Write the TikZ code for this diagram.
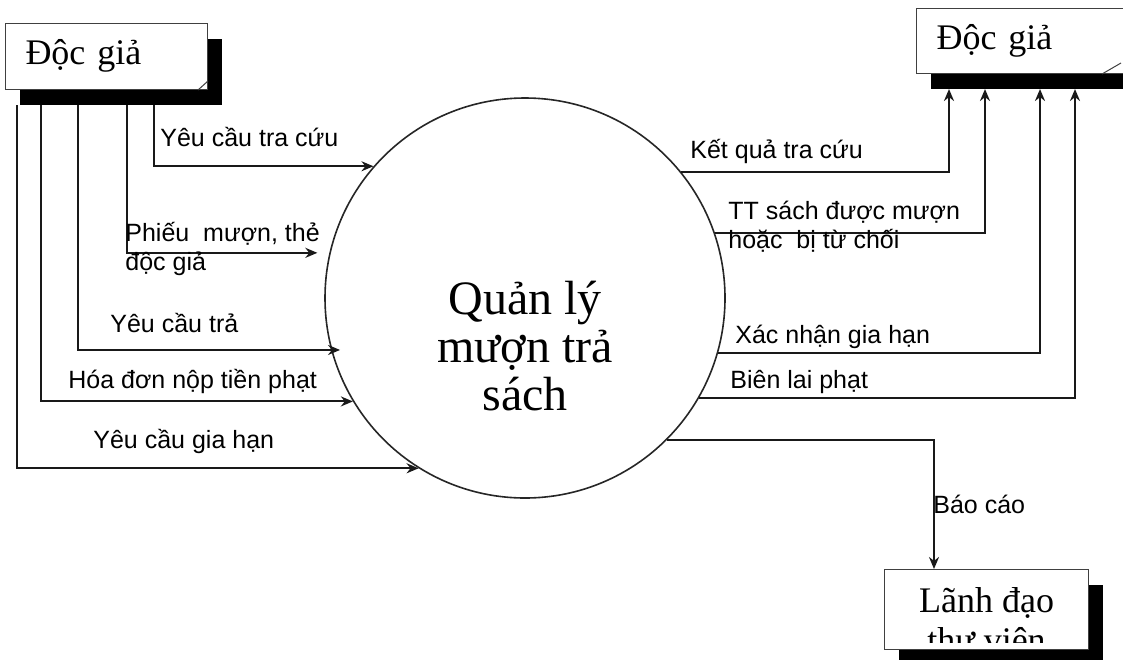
\documentclass[tikz,border=0pt]{standalone}
\usepackage{fontspec}
\setmainfont{Liberation Serif}
\setsansfont{Liberation Sans}
\usetikzlibrary{shadows,calc,arrows.meta,positioning}

\begin{document}
\begin{tikzpicture}[
    x=0.5pt, y=-0.5pt,
    entity/.style={
        draw=black!75,
        line width=0.5pt,
        fill=white,
        inner xsep=10pt,
        text height=10pt,
        text depth=2pt,
        align=left,
        font=\fontsize{18}{20}\selectfont,
        drop shadow={shadow xshift=7pt, shadow yshift=-7.5pt, opacity=1, fill=black}
    },
    entity text/.style={
        inner sep=0pt,
        font=\fontsize{18}{20}\selectfont
    },
    process/.style={
        circle,
        draw=black!85,
        line width=0.8pt,
        minimum size=200pt,
        inner sep=0pt
    },
    process text/.style={
        align=center,
        inner sep=0pt,
        font=\fontsize{24}{24}\selectfont
    },
    flow/.style={-{Stealth[length=6pt,width=5pt]}, line width=1pt, black!90},
    flow label/.style={anchor=base west, inner sep=0pt, align=left,
        font=\sffamily\fontsize{12.5}{14.5}\selectfont},
    corner mark/.style={line width=0.5pt, black!75}
]
\useasboundingbox (0,0) rectangle (1123,659);

% === EXTERNAL ENTITIES ===
\node[entity, text width=81pt, minimum height=33pt, anchor=north west] (reader) at (5,23) {Độc giả};
\node[entity, text width=84.5pt, minimum height=32.5pt, anchor=north west] (readerout) at (916,8) {Độc giả};
\node[entity, minimum width=102pt, minimum height=40pt, anchor=north west] (leader) at (884,569) {};
\begin{scope}
    \clip ($(leader.north west)+(1,1)$) rectangle ($(leader.south east)+(-1,-8)$);
    \node[entity text, anchor=north, align=center] (leadertext) at ($(leader.north)+(0,18)$) {Lãnh đạo\\thư viện};
\end{scope}

% folded corners
\draw[corner mark] ($(reader.south east)+(-10,0)$) -- ++(10,-9);
\draw[corner mark] ($(readerout.south east)+(-24,0)$) -- ++(19,-11);

% === PROCESS ===
\node[process] (proc) at (525,298) {};
\node[process text] (proctext) at ($(proc.center)+(0,48)$) {Quản lý\\mượn trả\\sách};

% === FLOWS IN ===
\draw[flow] ($(reader.south west)+(149,15)$) |- (proc.139);
\draw[flow] ($(reader.south west)+(122,15)$) |- ([xshift=-6pt]proc.167);
\draw[flow] ($(reader.south west)+(73,15)$) |- ([xshift=4.5pt]proc.195);
\draw[flow] ($(reader.south west)+(36,15)$) |- (proc.211);
\draw[flow] ($(reader.south west)+(12,15)$) |- (proc.238);

% === FLOWS OUT ===
\draw[flow] (proc.39) -| ($(readerout.south west)+(33,15)$);
\draw[flow] (proc.19) -| ($(readerout.south west)+(69,15)$);
\draw[flow] (proc.344) -| ($(readerout.south west)+(124,15)$);
\draw[flow] (proc.330) -| ($(readerout.south west)+(159,15)$);
\draw[flow] (proc.315) -| ($(leader.north west)+(50,0)$);

% === LABELS ===
\node[flow label] (lquery) at (160,146) {Yêu cầu tra cứu};
\node[flow label] (lslip) at (125,270) {Phiếu\ \ mượn, thẻ\\độc giả};
\node[flow label] (lreturn) at (110,332) {Yêu cầu trả};
\node[flow label] (linvoice) at (68,388) {Hóa đơn nộp tiền phạt};
\node[flow label] (lrenew) at (93,448) {Yêu cầu gia hạn};
\node[flow label] (lresult) at (690,158) {Kết quả tra cứu};
\node[flow label] (lstatus) at (728,248) {TT sách được mượn\\hoặc\ \ bị từ chối};
\node[flow label] (lconfirm) at (735,343) {Xác nhận gia hạn};
\node[flow label] (lreceipt) at (730,388) {Biên lai phạt};
\node[flow label] (lreport) at (933,513) {Báo cáo};

\end{tikzpicture}
\end{document}
